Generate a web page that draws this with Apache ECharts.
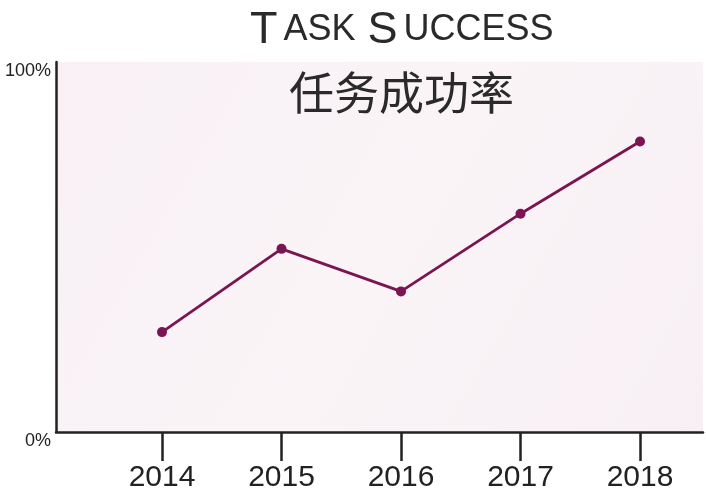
<!DOCTYPE html>
<html>
<head>
<meta charset="utf-8">
<script src="https://cdn.jsdelivr.net/npm/echarts@6/dist/echarts.min.js"></script>
<style>
html,body{margin:0;padding:0;background:#fff;}
#chart{width:706px;height:500px;}
</style>
</head>
<body>
<div id="chart"></div>
<script>
const years = [2014, 2015, 2016, 2017, 2018];
const successRate = [27, 49.5, 38, 59, 78.5];
const yTickValues = [0, 100];
const titleText = 'TASK SUCCESS';
const subtitleText = '任务成功率';

const chart = echarts.init(document.getElementById('chart'));
const ink = '#222';
chart.setOption({
  backgroundColor: '#ffffff',
  animation: false,
  title: [
    {
      text: '{b|T}{s|ASK} {b|S}{s|UCCESS}',
      left: 246,
      top: 8,
      padding: 0,
      textStyle: {
        fontFamily: 'Liberation Sans',
        fontWeight: 'normal',
        color: '#2a2a2a',
        rich: {
          b: {fontSize: 45, fontFamily: 'Liberation Sans', color: '#2a2a2a', padding: [0, 3, 0, 4]},
          s: {fontSize: 36, fontFamily: 'Liberation Sans', color: '#2a2a2a', padding: [0, 3, 0, 3]}
        }
      }
    },
    {
      text: subtitleText,
      left: 289,
      top: 70,
      padding: 0,
      textStyle: {
        fontFamily: 'Noto Sans CJK SC',
        fontWeight: 'normal',
        fontSize: 45,
        color: '#2a2a2a'
      }
    }
  ],
  grid: {
    left: 56, right: 3, top: 62, bottom: 68,
    outerBoundsMode: 'none',
    containLabel: false,
    show: true,
    borderWidth: 0,
    backgroundColor: {
      type: 'linear', x: 0, y: 0, x2: 1, y2: 1,
      colorStops: [
        {offset: 0, color: '#f8f0f5'},
        {offset: 0.5, color: '#faf4f7'},
        {offset: 1, color: '#f7eff4'}
      ]
    }
  },
  xAxis: {
    type: 'value',
    min: 2013.113,
    max: 2018.527,
    splitLine: {show: false},
    axisLine: {show: true, lineStyle: {color: ink, width: 2.5}},
    axisTick: {show: true, length: 29, customValues: years, lineStyle: {color: ink, width: 2.5}},
    axisLabel: {
      customValues: years,
      margin: 31,
      fontSize: 30,
      fontFamily: 'Liberation Sans',
      color: ink,
      formatter: v => String(v)
    }
  },
  yAxis: {
    type: 'value',
    min: 0,
    max: 100,
    splitLine: {show: false},
    axisLine: {show: true, lineStyle: {color: ink, width: 2.5}},
    axisTick: {show: false},
    axisLabel: {
      customValues: yTickValues,
      margin: 5,
      fontSize: 18,
      fontFamily: 'Liberation Sans',
      color: ink,
      verticalAlign: 'top',
      formatter: v => v + '%'
    }
  },
  series: [{
    type: 'line',
    data: years.map((y, i) => [y, successRate[i]]),
    symbol: 'circle',
    symbolSize: 10,
    lineStyle: {color: '#7a1552', width: 2.8},
    itemStyle: {color: '#7a1552'}
  }]
});
</script>
</body>
</html>
